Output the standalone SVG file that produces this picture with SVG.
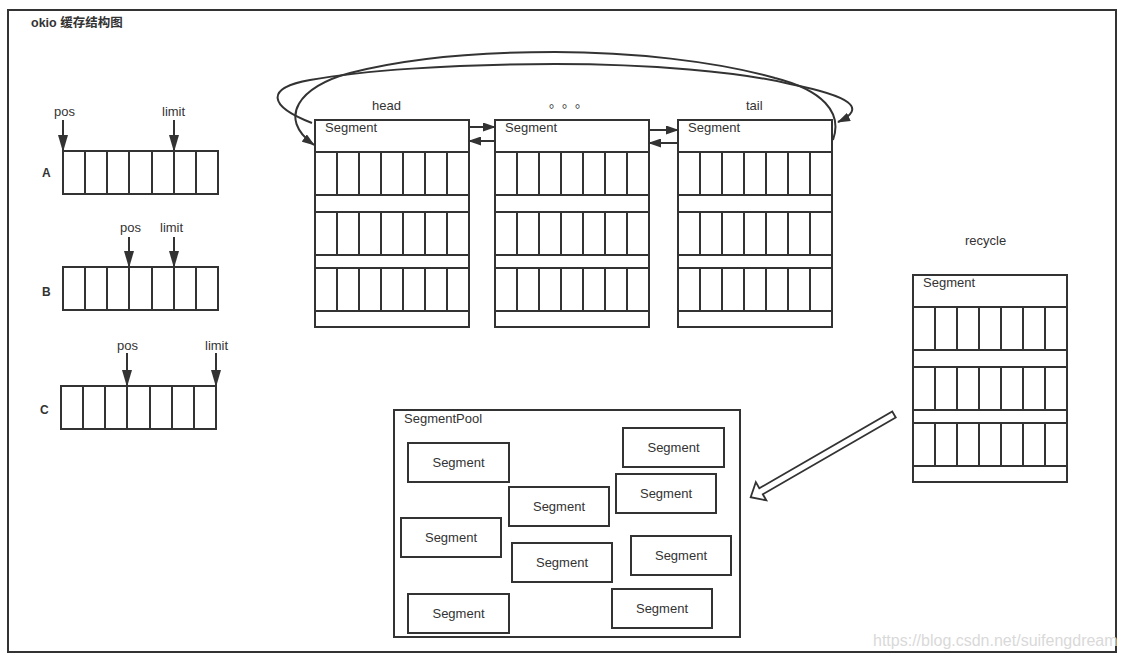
<svg xmlns="http://www.w3.org/2000/svg" xmlns:xlink="http://www.w3.org/1999/xlink" width="1125" height="660" viewBox="0 0 1125 660">
<defs>
<style>
.ln{fill:none;stroke:#333;stroke-width:2}
.box{fill:#fff;stroke:#333;stroke-width:2}
.t{font-family:"Liberation Sans","Noto Sans CJK SC",Arial,sans-serif;font-size:13px;fill:#333}
.b{font-weight:bold;font-size:12px}
.c{text-anchor:middle}
.wm{font-family:"Liberation Sans",Arial,sans-serif;font-size:16px;fill:#d9d9d9}
</style>
<marker id="ah" markerUnits="userSpaceOnUse" markerWidth="17" markerHeight="10" viewBox="0 0 17 10" refX="16" refY="5" orient="auto"><path d="M0,0 L17,5 L0,10 z" fill="#333"/></marker>
<marker id="as" markerUnits="userSpaceOnUse" markerWidth="13" markerHeight="9" viewBox="0 0 13 9" refX="12" refY="4.5" orient="auto"><path d="M0,0 L13,4.5 L0,9 z" fill="#333"/></marker>
<g id="segShape">
<rect class="box" x="0" y="0" width="154" height="207"/>
<path class="ln" d="M0,32H154M0,75H154M0,92H154M0,135H154M0,148H154M0,191H154M22,32V75M44,32V75M66,32V75M88,32V75M110,32V75M132,32V75M22,92V135M44,92V135M66,92V135M88,92V135M110,92V135M132,92V135M22,148V191M44,148V191M66,148V191M88,148V191M110,148V191M132,148V191"/>
</g>
<g id="arrShape">
<rect class="box" x="0" y="0" width="155" height="43"/>
<path class="ln" d="M22,0V43M44,0V43M66,0V43M89,0V43M111,0V43M133,0V43"/>
</g>
</defs>
<rect x="0" y="0" width="1125" height="660" fill="#fff"/>
<rect id="frame" class="box" x="8" y="10" width="1108" height="642"/>
<text id="title" class="t" x="31" y="27" style="font-weight:bold;font-size:12.5px">okio 缓存结构图</text>

<g id="array-A">
<use xlink:href="#arrShape" href="#arrShape" transform="translate(63,151)"/>
<text class="t b" x="42" y="177">A</text>
<text class="t" x="54" y="116">pos</text>
<text class="t" x="162" y="116">limit</text>
</g>
<g id="array-B">
<use xlink:href="#arrShape" href="#arrShape" transform="translate(63,267)"/>
<text class="t b" x="42" y="296">B</text>
<text class="t" x="120" y="232">pos</text>
<text class="t" x="160" y="232">limit</text>
</g>
<g id="array-C">
<use xlink:href="#arrShape" href="#arrShape" transform="translate(61,386)"/>
<text class="t b" x="40" y="414">C</text>
<text class="t" x="117" y="350">pos</text>
<text class="t" x="205" y="350">limit</text>
</g>

<g id="seg-head">
<use xlink:href="#segShape" href="#segShape" transform="translate(315,120)"/>
<text class="t" x="325" y="132">Segment</text>
<text class="t" x="372" y="110">head</text>
</g>
<g id="seg-mid">
<use xlink:href="#segShape" href="#segShape" transform="translate(495,120)"/>
<text class="t" x="505" y="132">Segment</text>
<text x="549 562 575" y="106.5" style="font-family:'Noto Sans CJK SC','Noto Sans CJK JP',sans-serif;font-size:13px;fill:#333">。。。</text>
</g>
<g id="seg-tail">
<use xlink:href="#segShape" href="#segShape" transform="translate(678,120)"/>
<text class="t" x="688" y="132">Segment</text>
<text class="t" x="746" y="110">tail</text>
</g>
<g id="seg-recycle">
<use xlink:href="#segShape" href="#segShape" transform="translate(913,275)"/>
<text class="t" x="923" y="287">Segment</text>
<text class="t" x="965" y="245">recycle</text>
</g>

<g id="segment-pool">
<rect class="box" x="394" y="410" width="346" height="227"/>
<text class="t" x="404" y="423">SegmentPool</text>
<g id="pool-1"><rect class="box" x="408" y="443" width="101" height="39"/><text class="t c" x="458.5" y="467">Segment</text></g>
<g id="pool-2"><rect class="box" x="623" y="428" width="101" height="39"/><text class="t c" x="673.5" y="452">Segment</text></g>
<g id="pool-3"><rect class="box" x="509" y="487" width="100" height="39"/><text class="t c" x="559" y="511">Segment</text></g>
<g id="pool-4"><rect class="box" x="616" y="474" width="100" height="39"/><text class="t c" x="666" y="498">Segment</text></g>
<g id="pool-5"><rect class="box" x="401" y="518" width="100" height="39"/><text class="t c" x="451" y="542">Segment</text></g>
<g id="pool-6"><rect class="box" x="512" y="543" width="100" height="39"/><text class="t c" x="562" y="567">Segment</text></g>
<g id="pool-7"><rect class="box" x="631" y="536" width="100" height="39"/><text class="t c" x="681" y="560">Segment</text></g>
<g id="pool-8"><rect class="box" x="408" y="594" width="101" height="39"/><text class="t c" x="458.5" y="618">Segment</text></g>
<g id="pool-9"><rect class="box" x="612" y="589" width="100" height="39"/><text class="t c" x="662" y="613">Segment</text></g>
</g>

<g id="connectors">
<path class="ln" d="M63,120V151" marker-end="url(#ah)"/>
<path class="ln" d="M174,120V151" marker-end="url(#ah)"/>
<path class="ln" d="M129,237V267" marker-end="url(#ah)"/>
<path class="ln" d="M174,237V267" marker-end="url(#ah)"/>
<path class="ln" d="M127,353V386" marker-end="url(#ah)"/>
<path class="ln" d="M216,353V386" marker-end="url(#ah)"/>
<path class="ln" d="M469,127H495" marker-end="url(#as)"/>
<path class="ln" d="M495,141H469" marker-end="url(#as)"/>
<path class="ln" d="M649,130H678" marker-end="url(#as)"/>
<path class="ln" d="M678,143H649" marker-end="url(#as)"/>
<path class="ln" d="M312,123 C268,106 265,88 310,80 C360,71 450,64 555,64 C650,64 740,72 790,84 C850,96 868,108 838,122" marker-end="url(#as)"/>
<path class="ln" d="M833,140 C843,112 822,90 775,78 C715,61 630,52 555,52 C470,52 400,60 350,73 C300,86 276,118 314,145" marker-end="url(#as)"/>
<polygon points="0,-3.5 153.5,-3.5 153.5,-10.5 165.5,0 153.5,10.5 153.5,3.5 0,3.5" fill="#fff" stroke="#333" stroke-width="1.8" stroke-linejoin="miter" transform="translate(894,414.5) rotate(150)"/>
</g>

<text id="watermark" class="wm" x="873" y="646">https://blog.csdn.net/suifengdream</text>
</svg>
